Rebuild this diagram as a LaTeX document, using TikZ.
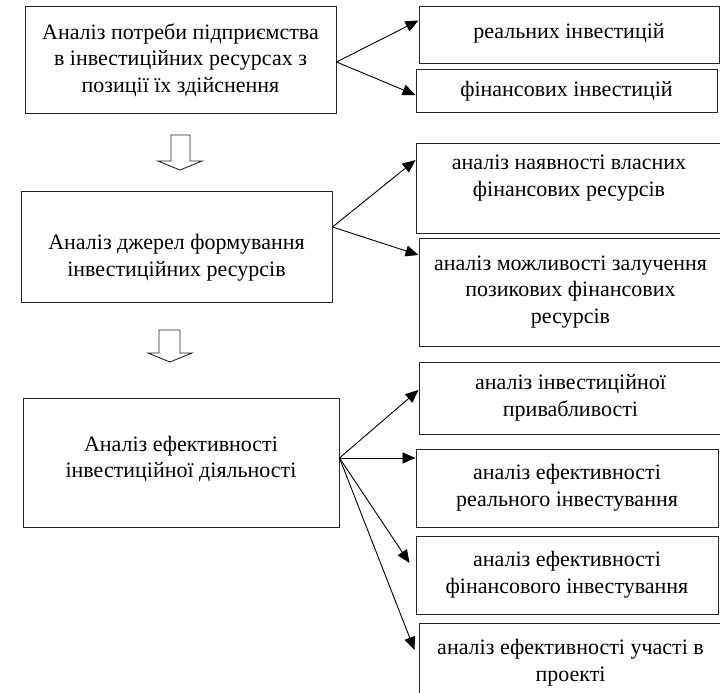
\documentclass[tikz,border=0pt]{standalone}
\usepackage{fontspec}
\setmainfont{Liberation Serif}
\usepackage{tikz}
\usetikzlibrary{arrows.meta, positioning}

\begin{document}
\begin{tikzpicture}[
    x=1pt, y=-1pt,
    block/.style={rectangle, draw=black!85, line width=1pt, align=center, inner sep=2pt, font=\fontsize{22}{26.7}\selectfont},
    arrow/.style={line width=0.9pt, -{Triangle[length=13pt,width=11pt]}},
    hollow/.style={draw=black!85, line width=0.9pt, fill=white}
]
\useasboundingbox (0,0) rectangle (720,693);

% left column
\node[block, minimum width=311pt, minimum height=106pt] (need) at (180.5,60) {Аналіз потреби підприємства\\в інвестиційних ресурсах з\\позиції їх здійснення};
\node[block, minimum width=311pt, minimum height=111pt, text height=64pt] (sources) at (176.5,246.5) {Аналіз джерел формування\\інвестиційних ресурсів};
\node[block, minimum width=316pt, minimum height=129pt, text depth=11pt] (effect) at (181,462.5) {Аналіз ефективності\\інвестиційної діяльності};

% right column
\node[block, minimum width=300pt, minimum height=57pt, text depth=10pt] (real) at (569,35.5) {реальних інвестицій};
\node[block, minimum width=301pt, minimum height=42pt] (fin) at (566.5,91) {фінансових інвестицій};
\node[block, minimum width=306pt, minimum height=90pt, text depth=24pt] (own) at (569,188) {аналіз наявності власних\\фінансових ресурсів};
\node[block, minimum width=303pt, minimum height=108pt] (borrow) at (570.5,292) {аналіз можливості залучення\\позикових фінансових\\ресурсів};
\node[block, minimum width=303pt, minimum height=72pt] (attract) at (570.5,398) {аналіз інвестиційної\\привабливості};
\node[block, minimum width=302pt, minimum height=78pt] (realeff) at (567,488) {аналіз ефективності\\реального інвестування};
\node[block, minimum width=302pt, minimum height=78pt] (fineff) at (567,575) {аналіз ефективності\\фінансового інвестування};
\node[block, minimum width=303pt, minimum height=80pt] (project) at (570.5,663) {аналіз ефективності участі в\\проекті};

% hollow arrows between stages
\draw[hollow] (171,135) -- (190,135) -- (190,161) -- (202,161) -- (180,170) -- (158,161) -- (171,161) -- cycle;
\draw[hollow] (159,330) -- (180,330) -- (180,353) -- (192,353) -- (170,362) -- (148,353) -- (159,353) -- cycle;

% connectors
\draw[arrow] ([yshift=-2pt]need.east) -- ([yshift=15pt]real.west);
\draw[arrow] ([yshift=-2pt]need.east) -- ([yshift=-4pt]fin.west);
\draw[arrow] ([yshift=19.5pt]sources.east) -- ([yshift=28pt]own.west);
\draw[arrow] ([yshift=19.5pt]sources.east) -- ([yshift=37pt]borrow.west);
\draw[arrow] ([yshift=4.5pt]effect.east) -- ([yshift=8pt]attract.west);
\draw[arrow] ([yshift=4.5pt]effect.east) -- ([yshift=30pt]realeff.west);
\draw[arrow] ([yshift=4.5pt]effect.east) -- ([xshift=-6pt,yshift=12pt]fineff.west);
\draw[arrow] ([yshift=4.5pt]effect.east) -- ([xshift=-4pt,yshift=13pt]project.west);

\end{tikzpicture}
\end{document}
